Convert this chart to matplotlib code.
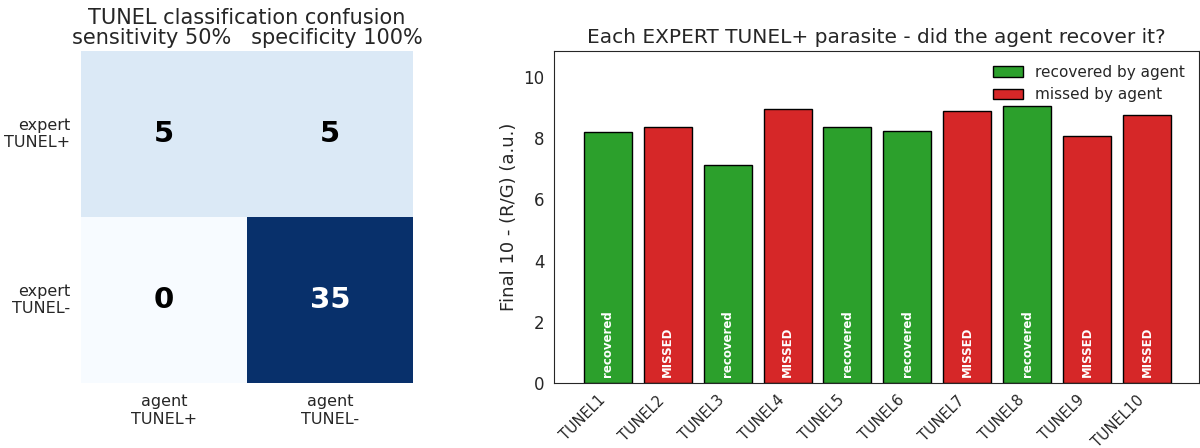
import numpy as np
import matplotlib
matplotlib.use("Agg")
import matplotlib.pyplot as plt
import seaborn as sns
from matplotlib.patches import Patch

# confusion matrix (rows = expert, cols = agent)
conf = np.array([[5, 5],
                 [0, 35]])
row_labels = ["expert\nTUNEL+", "expert\nTUNEL-"]
col_labels = ["agent\nTUNEL+", "agent\nTUNEL-"]

# expert TUNEL+ parasites
names = ["TUNEL1", "TUNEL2", "TUNEL3", "TUNEL4", "TUNEL5",
         "TUNEL6", "TUNEL7", "TUNEL8", "TUNEL9", "TUNEL10"]
values = [8.20, 8.35, 7.13, 8.95, 8.38, 8.22, 8.88, 9.04, 8.06, 8.77]
recovered = [True, False, True, False, True, True, False, True, False, False]

sns.set_style("white")
plt.rcParams['font.family'] = ['DejaVu Sans']

fig = plt.figure(figsize=(12, 4.48), dpi=100)

#-----------------------------------------------------------------------------------------
# confusion heatmap
ax1 = fig.add_axes([81/1200, 65/448, 332/1200, 332/448])
sns.heatmap(conf, ax=ax1, cmap="Blues", annot=True, fmt="d", cbar=False,
            annot_kws={"fontsize": 21, "fontweight": "bold"},
            xticklabels=col_labels, yticklabels=row_labels)
# dark cell gets white text, the rest pure black
for t in ax1.texts:
    t.set_color("white" if int(t.get_text()) > conf.max() / 2 else "black")
ax1.set_yticklabels(row_labels, rotation=0, fontsize=11.5, ha="right",
                    multialignment="right")
ax1.set_xticklabels(col_labels, rotation=0, fontsize=11.5)
ax1.tick_params(length=0, pad=8)
sens = conf[0, 0] / conf[0].sum() * 100
spec = conf[1, 1] / conf[1].sum() * 100
ax1.set_title(f"TUNEL classification confusion\nsensitivity {sens:.0f}%   specificity {spec:.0f}%",
              fontsize=15, linespacing=1.0, pad=5)

#-----------------------------------------------------------------------------------------
# bar chart of expert TUNEL+ parasites
ax2 = fig.add_axes([554/1200, 65/448, 645/1200, 332/448])
x = np.arange(len(names))
colors = ["#2ca02c" if r else "#d62728" for r in recovered]
ax2.bar(x, values, width=0.8, color=colors, edgecolor="black", linewidth=1)
for xi, r in zip(x, recovered):
    ax2.text(xi, 0.2, "recovered" if r else "MISSED", rotation=90,
             ha="center", va="bottom", color="white", fontsize=8.5,
             fontweight="bold")
ax2.set_xticks(x)
ax2.set_xticklabels(names, rotation=45, ha="right", fontsize=10.5)
ax2.tick_params(axis="y", labelsize=12)
ax2.set_xlim(-0.9, 9.87)
ax2.set_ylim(0, max(values) * 1.2)
ax2.set_ylabel("Final 10 - (R/G) (a.u.)", fontsize=13)
ax2.set_title("Each EXPERT TUNEL+ parasite - did the agent recover it?", fontsize=14.5)
handles = [Patch(facecolor="#2ca02c", edgecolor="black", label="recovered by agent"),
           Patch(facecolor="#d62728", edgecolor="black", label="missed by agent")]
ax2.legend(handles=handles, loc="upper right", frameon=False, fontsize=11)

fig.savefig("out.png", dpi=100)
